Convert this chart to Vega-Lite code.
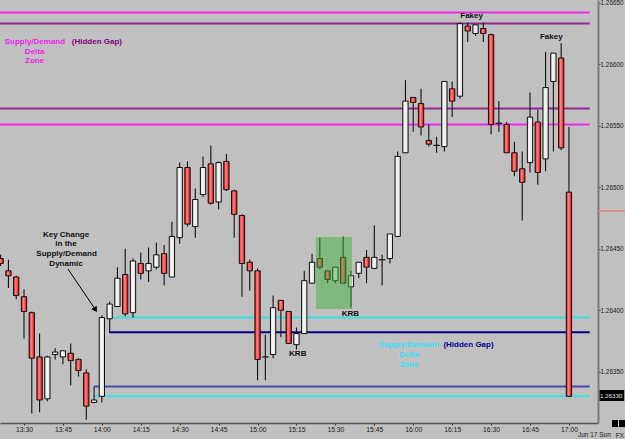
{
  "$schema": "https://vega.github.io/schema/vega-lite/v6.json",
  "width": 598,
  "height": 423,
  "padding": {"left": 0, "top": 0, "right": 27, "bottom": 16},
  "autosize": {"type": "none"},
  "background": "#c0c0c0",
  "config": {
    "view": {"stroke": null, "fill": null},
    "font": "Liberation Sans"
  },
  "resolve": {"scale": {"color": "independent", "strokeWidth": "independent"}},
  "datasets": {
    "candles": [
      {"t":801,"o":1.26442,"h":1.26445,"l":1.26436,"c":1.26438},
      {"t":804,"o":1.26432,"h":1.26441,"l":1.26418,"c":1.26428},
      {"t":807,"o":1.26427,"h":1.26428,"l":1.26409,"c":1.26412},
      {"t":810,"o":1.26411,"h":1.26417,"l":1.26377,"c":1.26399},
      {"t":813,"o":1.26398,"h":1.26399,"l":1.26316,"c":1.26361},
      {"t":816,"o":1.26362,"h":1.26381,"l":1.26317,"c":1.26327},
      {"t":819,"o":1.26328,"h":1.26363,"l":1.26326,"c":1.26362},
      {"t":822,"o":1.26364,"h":1.26369,"l":1.2636,"c":1.26366},
      {"t":825,"o":1.26362,"h":1.26367,"l":1.26356,"c":1.26367},
      {"t":828,"o":1.26365,"h":1.26373,"l":1.26339,"c":1.26359},
      {"t":831,"o":1.2636,"h":1.26361,"l":1.26346,"c":1.26351},
      {"t":834,"o":1.26349,"h":1.26352,"l":1.26311,"c":1.26322},
      {"t":837,"o":1.26325,"h":1.26338,"l":1.26325,"c":1.26327},
      {"t":840,"o":1.2633,"h":1.26396,"l":1.26325,"c":1.26394},
      {"t":843,"o":1.26393,"h":1.26407,"l":1.26382,"c":1.26405},
      {"t":846,"o":1.26403,"h":1.26435,"l":1.26403,"c":1.26426},
      {"t":849,"o":1.26429,"h":1.2645,"l":1.26395,"c":1.26397},
      {"t":852,"o":1.26398,"h":1.26442,"l":1.26394,"c":1.2644},
      {"t":855,"o":1.26438,"h":1.26447,"l":1.26425,"c":1.2643},
      {"t":858,"o":1.26432,"h":1.26451,"l":1.26423,"c":1.26438},
      {"t":861,"o":1.26435,"h":1.26455,"l":1.26433,"c":1.26445},
      {"t":864,"o":1.26446,"h":1.26453,"l":1.2642,"c":1.2643},
      {"t":867,"o":1.26427,"h":1.26472,"l":1.26427,"c":1.2646},
      {"t":870,"o":1.26459,"h":1.2652,"l":1.26454,"c":1.26516},
      {"t":873,"o":1.26516,"h":1.26521,"l":1.26468,"c":1.2647},
      {"t":876,"o":1.26468,"h":1.26499,"l":1.26459,"c":1.2649},
      {"t":879,"o":1.26494,"h":1.26525,"l":1.26492,"c":1.26516},
      {"t":882,"o":1.26519,"h":1.26534,"l":1.26486,"c":1.26487},
      {"t":885,"o":1.26488,"h":1.26521,"l":1.26482,"c":1.2652},
      {"t":888,"o":1.26521,"h":1.26527,"l":1.26497,"c":1.26498},
      {"t":891,"o":1.26497,"h":1.26498,"l":1.26459,"c":1.26478},
      {"t":894,"o":1.26477,"h":1.26478,"l":1.26411,"c":1.26438},
      {"t":897,"o":1.26439,"h":1.26441,"l":1.26416,"c":1.26432},
      {"t":900,"o":1.26432,"h":1.26434,"l":1.26343,"c":1.2636},
      {"t":903,"o":1.26362,"h":1.2638,"l":1.26343,"c":1.26362},
      {"t":906,"o":1.26364,"h":1.26412,"l":1.26361,"c":1.26402},
      {"t":909,"o":1.26408,"h":1.26408,"l":1.26378,"c":1.264},
      {"t":912,"o":1.26399,"h":1.26399,"l":1.26373,"c":1.26373},
      {"t":915,"o":1.26372,"h":1.26386,"l":1.26368,"c":1.26381},
      {"t":918,"o":1.26381,"h":1.26432,"l":1.26381,"c":1.26424},
      {"t":921,"o":1.26422,"h":1.26446,"l":1.26422,"c":1.26439},
      {"t":924,"o":1.26442,"h":1.26459,"l":1.26433,"c":1.26435},
      {"t":927,"o":1.26432,"h":1.26432,"l":1.26422,"c":1.26425},
      {"t":930,"o":1.26424,"h":1.26435,"l":1.26422,"c":1.26435},
      {"t":933,"o":1.26443,"h":1.2646,"l":1.26422,"c":1.26422},
      {"t":936,"o":1.26419,"h":1.26432,"l":1.26402,"c":1.26428},
      {"t":939,"o":1.2643,"h":1.26439,"l":1.26426,"c":1.26439},
      {"t":942,"o":1.26443,"h":1.26449,"l":1.26422,"c":1.26435},
      {"t":945,"o":1.26434,"h":1.26469,"l":1.26434,"c":1.26443},
      {"t":948,"o":1.26441,"h":1.26445,"l":1.2642,"c":1.26441},
      {"t":951,"o":1.26442,"h":1.26462,"l":1.26438,"c":1.26462},
      {"t":954,"o":1.2646,"h":1.26529,"l":1.2646,"c":1.26525},
      {"t":957,"o":1.26528,"h":1.26587,"l":1.26528,"c":1.2657},
      {"t":960,"o":1.26573,"h":1.26573,"l":1.26545,"c":1.26569},
      {"t":963,"o":1.26568,"h":1.2658,"l":1.26542,"c":1.26549},
      {"t":966,"o":1.26538,"h":1.26551,"l":1.26533,"c":1.26535},
      {"t":969,"o":1.26534,"h":1.26541,"l":1.26528,"c":1.26534},
      {"t":972,"o":1.26533,"h":1.26586,"l":1.26529,"c":1.26586},
      {"t":975,"o":1.2658,"h":1.26586,"l":1.26557,"c":1.2657},
      {"t":978,"o":1.26574,"h":1.26634,"l":1.26572,"c":1.26633},
      {"t":981,"o":1.26631,"h":1.26634,"l":1.26618,"c":1.26627},
      {"t":984,"o":1.26625,"h":1.26632,"l":1.26623,"c":1.26632},
      {"t":987,"o":1.26629,"h":1.26634,"l":1.26618,"c":1.26625},
      {"t":990,"o":1.26624,"h":1.26625,"l":1.26543,"c":1.26551},
      {"t":993,"o":1.26552,"h":1.2657,"l":1.26545,"c":1.26552},
      {"t":996,"o":1.26551,"h":1.26553,"l":1.26528,"c":1.26528},
      {"t":999,"o":1.26528,"h":1.26537,"l":1.26509,"c":1.26513},
      {"t":1002,"o":1.26515,"h":1.26529,"l":1.26473,"c":1.26504},
      {"t":1005,"o":1.2652,"h":1.26577,"l":1.26512,"c":1.26557},
      {"t":1008,"o":1.26553,"h":1.26563,"l":1.26502,"c":1.26512},
      {"t":1011,"o":1.26523,"h":1.2661,"l":1.26513,"c":1.26581},
      {"t":1014,"o":1.26586,"h":1.26609,"l":1.26529,"c":1.26609},
      {"t":1017,"o":1.26605,"h":1.26617,"l":1.2653,"c":1.26532},
      {"t":1020,"o":1.26496,"h":1.26549,"l":1.2633,"c":1.2633}
    ],
    "levels": [
      {"level":"supply zone","p":1.26642,"t":800.75,"t2":1028},
      {"level":"supply gap","p":1.26633,"t":800.75,"t2":1028},
      {"level":"supply gap","p":1.26564,"t":800.75,"t2":1028},
      {"level":"supply zone","p":1.26551,"t":800.75,"t2":1028},
      {"level":"demand zone","p":1.26394,"t":844.3,"t2":1028},
      {"level":"demand gap","p":1.26382,"t":842.8,"t2":1028},
      {"level":"demand gap low","p":1.26338,"t":837,"t2":1028},
      {"level":"demand zone","p":1.2633,"t":837,"t2":1028}
    ],
    "notes": [
      {"text":"Supply/Demand","kind":"supply","t":814.2,"p":1.266178},
      {"text":"Delta","kind":"supply","t":814.1,"p":1.266102},
      {"text":"Zone","kind":"supply","t":814.1,"p":1.266024},
      {"text":"(Hidden Gap)","kind":"supply gap","t":838.1,"p":1.266178},
      {"text":"Key Change","kind":"note","t":826.2,"p":1.264611},
      {"text":"in the","kind":"note","t":826.2,"p":1.264536},
      {"text":"Supply/Demand","kind":"note","t":826.4,"p":1.264457},
      {"text":"Dynamic","kind":"note","t":826.2,"p":1.264378},
      {"text":"KRB","kind":"note","t":915.5,"p":1.263644},
      {"text":"KRB","kind":"note","t":935.8,"p":1.263969},
      {"text":"Fakey","kind":"note","t":982.5,"p":1.266394},
      {"text":"Fakey","kind":"note","t":1013.2,"p":1.266219},
      {"text":"Supply/Demand","kind":"demand","t":958.2,"p":1.263717},
      {"text":"Delta","kind":"demand","t":958.4,"p":1.263636},
      {"text":"Zone","kind":"demand","t":958.4,"p":1.263555},
      {"text":"(Hidden Gap)","kind":"demand gap","t":981.3,"p":1.263717}
    ]
  },
  "layer": [
    {
      "data": {"name": "levels"},
      "mark": {"type": "rule"},
      "encoding": {
        "x": {"field": "t", "type": "quantitative",
          "scale": {"domain": [800.75, 1031.2], "nice": false, "zero": false, "padding": 0},
          "axis": {
            "title": null, "grid": false,
            "values": [810, 825, 840, 855, 870, 885, 900, 915, 930, 945, 960, 975, 990, 1005, 1020],
            "labelExpr": "floor(datum.value/60) + ':' + (datum.value % 60 < 10 ? '0' : '') + (datum.value % 60)",
            "domainColor": "#555555", "domainWidth": 1.5,
            "tickColor": "#333333", "tickSize": 2,
            "labelFontSize": 6.8, "labelColor": "#202020", "labelPadding": 1, "labelFlush": false
          }
        },
        "x2": {"field": "t2"},
        "y": {"field": "p", "type": "quantitative",
          "scale": {"domain": [1.263083, 1.266522], "nice": false, "zero": false, "padding": 0},
          "axis": {
            "orient": "right", "title": null, "grid": false,
            "values": [1.2635, 1.26375, 1.264, 1.26425, 1.2645, 1.26475, 1.265, 1.26525, 1.2655, 1.26575, 1.266, 1.26625, 1.2665],
            "labelExpr": "round(datum.value*100000) % 50 == 0 ? format(datum.value, '.5f') : ''",
            "domainColor": "#7a7a7a", "domainWidth": 2,
            "tickColor": "#333333", "tickSize": 2,
            "labelFontSize": 6.4, "labelColor": "#202020", "labelPadding": 0, "labelFlush": false
          }
        },
        "color": {"field": "level", "type": "nominal", "legend": null,
          "scale": {"domain": ["supply zone", "supply gap", "demand zone", "demand gap", "demand gap low"],
                    "range": ["#f028f0", "#902890", "#38e0e8", "#000088", "#4a4aa8"]}},
        "strokeWidth": {"field": "level", "type": "nominal", "legend": null,
          "scale": {"domain": ["supply zone", "supply gap", "demand zone", "demand gap", "demand gap low"],
                    "range": [2, 2, 2, 1.5, 3]}}
      }
    },
    {
      "data": {"name": "candles"},
      "mark": {"type": "rule", "color": "#111111", "strokeWidth": 1.1},
      "encoding": {
        "x": {"field": "t", "type": "quantitative"},
        "y": {"field": "l", "type": "quantitative"},
        "y2": {"field": "h"}
      }
    },
    {
      "data": {"name": "candles"},
      "transform": [{"filter": "datum.c < datum.o"}],
      "mark": {"type": "bar", "size": 5.3, "stroke": "#111111", "strokeWidth": 1,
        "fill": {"gradient": "linear", "x1": 0, "y1": 0, "x2": 1, "y2": 0,
          "stops": [{"offset": 0, "color": "#e00000"}, {"offset": 0.4, "color": "#ff8c8c"}, {"offset": 1, "color": "#f00000"}]}},
      "encoding": {
        "x": {"field": "t", "type": "quantitative"},
        "y": {"field": "o", "type": "quantitative"},
        "y2": {"field": "c"}
      }
    },
    {
      "data": {"name": "candles"},
      "transform": [{"filter": "datum.c > datum.o"}],
      "mark": {"type": "bar", "size": 5.3, "stroke": "#111111", "strokeWidth": 1,
        "fill": {"gradient": "linear", "x1": 0, "y1": 0, "x2": 1, "y2": 0,
          "stops": [{"offset": 0, "color": "#cfcfcf"}, {"offset": 0.4, "color": "#fafafa"}, {"offset": 1, "color": "#d8d8d8"}]}},
      "encoding": {
        "x": {"field": "t", "type": "quantitative"},
        "y": {"field": "o", "type": "quantitative"},
        "y2": {"field": "c"}
      }
    },
    {
      "data": {"name": "candles"},
      "transform": [{"filter": "datum.c == datum.o"}],
      "mark": {"type": "tick", "orient": "horizontal", "size": 6.5, "thickness": 1.2, "color": "#111111", "opacity": 1},
      "encoding": {
        "x": {"field": "t", "type": "quantitative"},
        "y": {"field": "o", "type": "quantitative"}
      }
    },
    {
      "data": {"values": [{"t": 922.5, "t2": 936.4, "p": 1.26401, "p2": 1.264595}]},
      "mark": {"type": "rect", "fill": "#40b040", "opacity": 0.5},
      "encoding": {
        "x": {"field": "t", "type": "quantitative"},
        "x2": {"field": "t2"},
        "y": {"field": "p", "type": "quantitative"},
        "y2": {"field": "p2"}
      }
    },
    {
      "data": {"values": [{"t": 826.96, "t2": 837.55, "p": 1.264335, "p2": 1.264004}]},
      "mark": {"type": "rule", "color": "#000000", "strokeWidth": 1},
      "encoding": {
        "x": {"field": "t", "type": "quantitative"},
        "x2": {"field": "t2"},
        "y": {"field": "p", "type": "quantitative"},
        "y2": {"field": "p2"}
      }
    },
    {
      "data": {"values": [{"t": 837.55, "p": 1.264004}]},
      "mark": {"type": "point", "shape": "triangle-up", "filled": true, "color": "#000000", "size": 40, "angle": 146, "opacity": 1},
      "encoding": {
        "x": {"field": "t", "type": "quantitative"},
        "y": {"field": "p", "type": "quantitative"}
      }
    },
    {
      "data": {"name": "notes"},
      "mark": {"type": "text", "font": "Liberation Sans", "fontWeight": "bold", "fontSize": 8, "align": "center", "baseline": "middle"},
      "encoding": {
        "x": {"field": "t", "type": "quantitative"},
        "y": {"field": "p", "type": "quantitative"},
        "text": {"field": "text"},
        "color": {"field": "kind", "type": "nominal", "legend": null,
          "scale": {"domain": ["supply", "supply gap", "demand", "demand gap", "note"],
                    "range": ["#f020f0", "#800080", "#30e0ff", "#000090", "#101010"]}}
      }
    },
    {
      "data": {"values": [{"t": 1031.2, "t2": 1041.6, "p": 1.264807}]},
      "mark": {"type": "rule", "color": "#e08080", "strokeWidth": 1.5},
      "encoding": {
        "x": {"field": "t", "type": "quantitative"},
        "x2": {"field": "t2"},
        "y": {"field": "p", "type": "quantitative"}
      }
    },
    {
      "data": {"values": [
        {"item": "price", "t": 1031.8, "t2": 1041.3, "p": 1.263262, "p2": 1.263351},
        {"item": "box", "t": 1036.6, "t2": 1038.9, "p": 1.26305, "p2": 1.263107},
        {"item": "box", "t": 1039.3, "t2": 1041.6, "p": 1.26305, "p2": 1.263107}
      ]},
      "mark": {"type": "rect", "fill": "#000000"},
      "encoding": {
        "x": {"field": "t", "type": "quantitative"},
        "x2": {"field": "t2"},
        "y": {"field": "p", "type": "quantitative"},
        "y2": {"field": "p2"}
      }
    },
    {
      "data": {"values": [{"label": "1.26330", "t": 1031.95, "p": 1.263305}]},
      "mark": {"type": "text", "fontSize": 6.2, "align": "left", "baseline": "middle", "color": "#e8e8e8"},
      "encoding": {
        "x": {"field": "t", "type": "quantitative"},
        "y": {"field": "p", "type": "quantitative"},
        "text": {"field": "label"}
      }
    },
    {
      "data": {"values": [{"label": "Jun 17 Sun", "t": 1029.8, "p": 1.262985}, {"label": "FX", "t": 1039.6, "p": 1.262975}]},
      "mark": {"type": "text", "fontSize": 6.5, "align": "center", "baseline": "middle", "color": "#202020"},
      "encoding": {
        "x": {"field": "t", "type": "quantitative"},
        "y": {"field": "p", "type": "quantitative"},
        "text": {"field": "label"}
      }
    }
  ]
}
